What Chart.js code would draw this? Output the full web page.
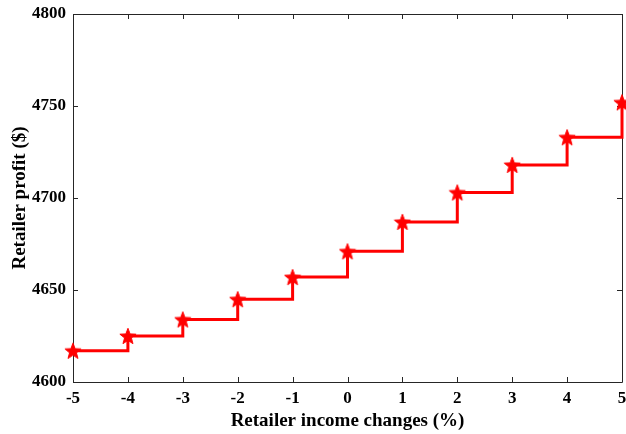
<!DOCTYPE html>
<html>
<head>
<meta charset="utf-8">
<script src="https://cdn.jsdelivr.net/npm/chart.js@4/dist/chart.umd.min.js"></script>
<style>
  html, body { margin: 0; padding: 0; background: #fff; overflow: hidden; }
  #wrap { width: 634px; height: 434px; position: relative; }
</style>
</head>
<body>
<div id="wrap"><canvas id="c"></canvas></div>
<script>
// Retailer income change (%) and the resulting retailer profit ($)
const incomeChanges = [-5, -4, -3, -2, -1, 0, 1, 2, 3, 4, 5];
const retailerProfit = [4617, 4625, 4634, 4645, 4657, 4671, 4687, 4703, 4718, 4733, 4752];
const yTicks = [4600, 4650, 4700, 4750, 4800];

const FONT = "'Liberation Serif', 'Times New Roman', serif";
const AXIS_COLOR = '#262626';

// Filled five-point star used as the marker
function makeStar(size, color) {
  const cv = document.createElement('canvas');
  cv.width = size; cv.height = size;
  const g = cv.getContext('2d');
  const cx = size / 2, cy = size / 2 + 0.8;
  const R = size / 2 - 0.5, r = R * 0.42;
  g.beginPath();
  for (let i = 0; i < 10; i++) {
    const rad = i % 2 === 0 ? R : r;
    const a = -Math.PI / 2 + i * Math.PI / 5;
    const px = cx + rad * Math.cos(a), py = cy + rad * Math.sin(a);
    if (i === 0) g.moveTo(px, py); else g.lineTo(px, py);
  }
  g.closePath();
  g.fillStyle = color;
  g.fill();
  g.lineWidth = 1;
  g.strokeStyle = color;
  g.stroke();
  return cv;
}
const star = makeStar(18, '#ff0000');

// Box frame with inward ticks on all four sides, drawn beneath the data
const frame = {
  id: 'frame',
  beforeDatasetsDraw(chart) {
    const { ctx, chartArea: a, scales: { x, y } } = chart;
    ctx.save();
    ctx.strokeStyle = AXIS_COLOR;
    ctx.lineWidth = 1;
    const tl = 5;
    ctx.beginPath();
    incomeChanges.forEach(v => {
      const px = Math.round(x.getPixelForValue(v)) + 0.5;
      ctx.moveTo(px, a.bottom); ctx.lineTo(px, a.bottom - tl);
      ctx.moveTo(px, a.top); ctx.lineTo(px, a.top + tl);
    });
    yTicks.forEach(v => {
      const py = Math.round(y.getPixelForValue(v)) + 0.5;
      ctx.moveTo(a.left, py); ctx.lineTo(a.left + tl, py);
      ctx.moveTo(a.right, py); ctx.lineTo(a.right - tl, py);
    });
    ctx.stroke();
    ctx.beginPath();
    ctx.rect(Math.round(a.left) + 0.5, Math.round(a.top) + 0.5,
             Math.round(a.right - a.left), Math.round(a.bottom - a.top));
    ctx.stroke();
    ctx.restore();
  }
};

new Chart(document.getElementById('c'), {
  type: 'line',
  data: {
    datasets: [{
      data: incomeChanges.map((v, i) => ({ x: v, y: retailerProfit[i] })),
      borderColor: '#ff0000',
      backgroundColor: '#ff0000',
      borderWidth: 3,
      stepped: 'before',
      pointStyle: star,
      pointRadius: 9,
      clip: false
    }]
  },
  options: {
    responsive: true,
    maintainAspectRatio: false,
    animation: false,
    layout: { padding: { left: 0, top: 14, right: 0, bottom: 0 } },
    plugins: { legend: { display: false }, tooltip: { enabled: false } },
    scales: {
      x: {
        type: 'linear',
        min: -5, max: 5,
        afterFit(s) { s.height = 52; },
        afterBuildTicks(s) { s.ticks = incomeChanges.map(v => ({ value: v })); },
        grid: { display: false, drawTicks: false },
        border: { display: false },
        ticks: {
          color: '#000', padding: 6,
          font: { family: FONT, size: 17, weight: 'bold' },
          callback: v => String(v)
        },
        title: {
          display: true, text: 'Retailer income changes (%)', color: '#000',
          padding: { top: 0, bottom: 2 },
          font: { family: FONT, size: 19, weight: 'bold' }
        }
      },
      y: {
        min: 4600, max: 4800,
        afterFit(s) { s.width = 73; s.paddingTop = 0; s.paddingBottom = 0; },
        afterBuildTicks(s) { s.ticks = yTicks.map(v => ({ value: v })); },
        grid: { display: false, drawTicks: false },
        border: { display: false },
        ticks: {
          color: '#000', padding: 7,
          font: { family: FONT, size: 17, weight: 'bold' },
          callback: v => String(v)
        },
        title: {
          display: true, text: 'Retailer profit ($)', color: '#000',
          padding: { top: 9, bottom: 0 },
          font: { family: FONT, size: 19, weight: 'bold' }
        }
      }
    }
  },
  plugins: [frame]
});
</script>
</body>
</html>
